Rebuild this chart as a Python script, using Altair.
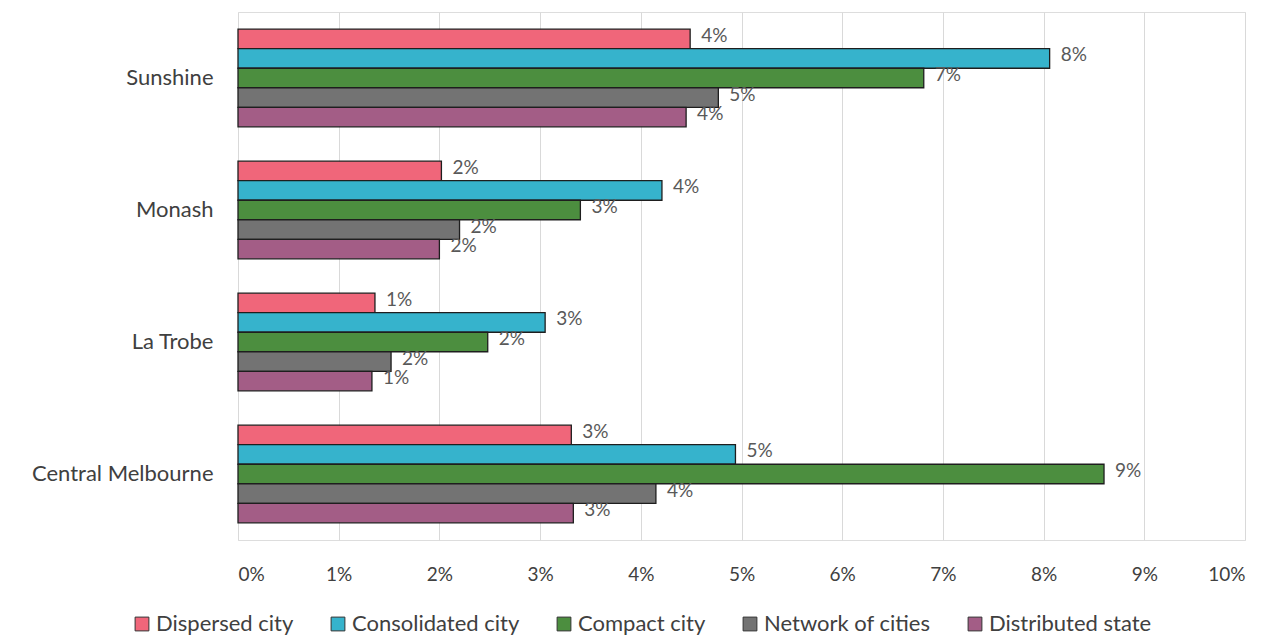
import altair as alt
import pandas as pd

categories = ["Sunshine", "Monash", "La Trobe", "Central Melbourne"]
series = ["Dispersed city", "Consolidated city", "Compact city", "Network of cities", "Distributed state"]
colors = ["#f0667a", "#36b3cc", "#4c8e3f", "#737373", "#a35d86"]

# values in % per category, in series order
sunshine = [4.49, 8.06, 6.81, 4.77, 4.45]
monash = [2.02, 4.21, 3.40, 2.20, 2.00]
la_trobe = [1.36, 3.05, 2.48, 1.52, 1.33]
central_melbourne = [3.31, 4.94, 8.60, 4.15, 3.33]

rows = []
for cat, vals in zip(categories, [sunshine, monash, la_trobe, central_melbourne]):
    for s, v in zip(series, vals):
        rows.append({"category": cat, "series": s, "value": v / 100.0})
df = pd.DataFrame(rows)

FONT = "Lato"

y = alt.Y("category:N", sort=categories, title=None,
          scale=alt.Scale(paddingInner=0.26, paddingOuter=0.13),
          axis=alt.Axis(labelFontSize=22, labelColor="#404040", labelFont=FONT,
                        labelPadding=25, labelLimit=0, ticks=False, domain=False))
yoff = alt.YOffset("series:N", sort=series)
x = alt.X("value:Q", title=None,
          scale=alt.Scale(domain=[0, 0.1], nice=False),
          axis=alt.Axis(format=".0%", values=[i / 100 for i in range(11)],
                        labelFontSize=19, labelColor="#404040", labelFont=FONT,
                        labelPadding=25, ticks=False, domain=False,
                        gridColor="#d9d9d9", gridWidth=1))

bars = alt.Chart(df).mark_bar(stroke="#1e1e1e", strokeWidth=1.3, opacity=1).encode(
    y=y, yOffset=yoff, x=x,
    color=alt.Color("series:N", sort=series,
                    scale=alt.Scale(domain=series, range=colors),
                    legend=alt.Legend(title=None, orient="none", direction="horizontal",
                                      columns=5, legendX=-107, legendY=601,
                                      symbolType="square", symbolSize=190,
                                      symbolStrokeColor="#333333", symbolStrokeWidth=1,
                                      labelFontSize=22, labelFont=FONT, labelColor="#404040",
                                      labelLimit=0, columnPadding=33, labelOffset=3)),
)

labels = alt.Chart(df).mark_text(align="left", baseline="middle", dx=11, dy=-3,
                                 fontSize=19, font=FONT, color="#595959").encode(
    y=y, yOffset=yoff, x=x,
    text=alt.Text("value:Q", format=".0%"),
)

chart = alt.layer(bars, labels).properties(
    width=1007, height=528,
    autosize=alt.AutoSizeParams(type="none"),
    padding={"left": 238, "top": 12, "right": 34, "bottom": 99},
).configure_view(stroke=None).configure(background="white")

chart.save("out.html", embed_options={"renderer": "svg", "actions": False})
